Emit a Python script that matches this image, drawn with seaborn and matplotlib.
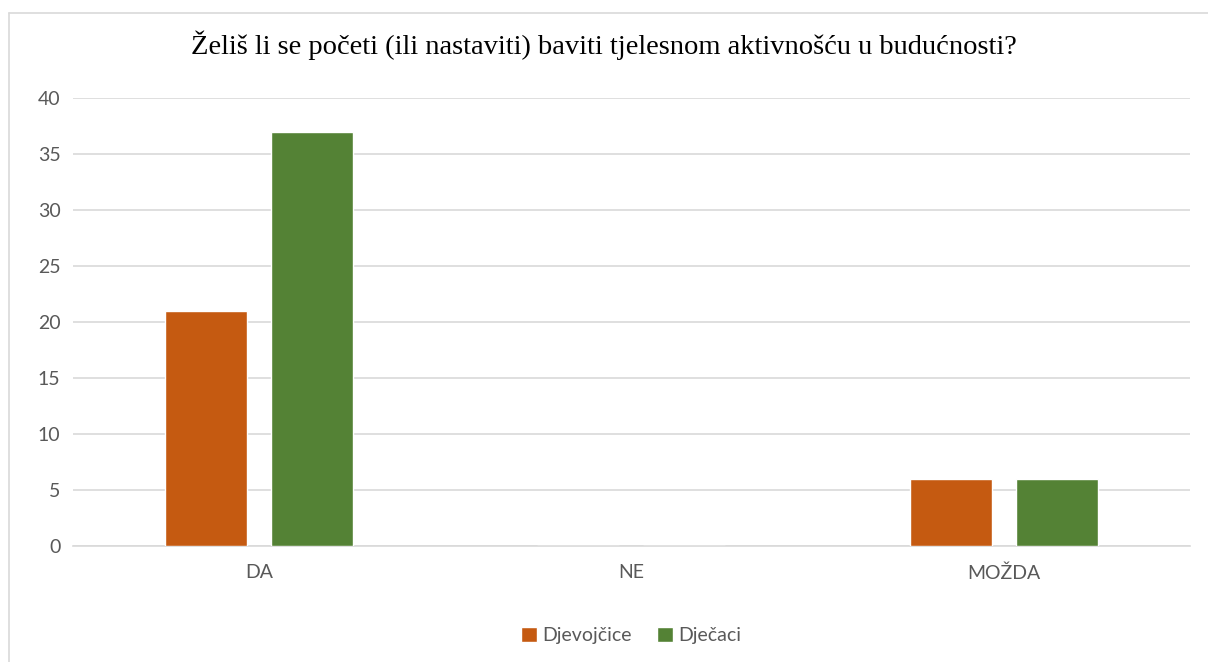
import matplotlib
matplotlib.use("Agg")
import matplotlib.pyplot as plt
import seaborn as sns
import pandas as pd
from matplotlib.lines import Line2D

categories = ["DA", "NE", "MOŽDA"]
series_names = ["Djevojčice", "Dječaci"]
djevojcice = [21, 0, 6]
djecaci = [37, 0, 6]
yticks = [0, 5, 10, 15, 20, 25, 30, 35, 40]
title = "Želiš li se početi (ili nastaviti) baviti tjelesnom aktivnošću u budućnosti?"

df = pd.DataFrame({
    "cat": categories * 2,
    "val": djevojcice + djecaci,
    "ser": [series_names[0]] * 3 + [series_names[1]] * 3,
})

sns.set_theme(style="white")
plt.rcParams['font.family'] = ['Lato', 'DejaVu Sans']

fig = plt.figure(figsize=(12.08, 6.62), dpi=100)
ax = fig.add_axes([0.0604, 0.1752, 0.9246, 0.6768])

sns.barplot(data=df, x="cat", y="val", hue="ser", order=categories,
            hue_order=series_names, palette=["#C55A11", "#548235"],
            saturation=1, width=0.57, gap=0.227, ax=ax, legend=True, zorder=3)

ax.set_xlim(-0.5, 2.5)
ax.set_ylim(0, 40)
ax.set_yticks(yticks)
ax.set_yticklabels([str(t) for t in yticks])
ax.yaxis.grid(True, color="#D9D9D9", linewidth=1.2, zorder=0)
ax.set_axisbelow(True)
for s in ["top", "right", "left"]:
    ax.spines[s].set_visible(False)
ax.spines["bottom"].set_color("#D9D9D9")
ax.spines["bottom"].set_linewidth(1.2)
ax.tick_params(axis="both", length=0, labelsize=14, colors="#595959")
ax.tick_params(axis="x", pad=13)
ax.tick_params(axis="y", pad=9)
ax.set_xlabel("")
ax.set_ylabel("")

leg = ax.legend(loc="center", bbox_to_anchor=(0.5, -0.2), ncol=2, frameon=False,
                fontsize=14, handlelength=0.8, handleheight=0.8, handletextpad=0.3,
                columnspacing=1.3)
for t in leg.get_texts():
    t.set_color("#595959")

fig.text(0.5, 0.932, title, ha="center", va="center", fontsize=20.5,
         family=["Liberation Serif", "DejaVu Serif"], color="#000000")

x0 = 8.5 / 1208
y0 = 1 - 12.5 / 662
fig.lines.append(Line2D([x0, 1.0], [y0, y0], transform=fig.transFigure,
                        color="#D9D9D9", linewidth=1.2))
fig.lines.append(Line2D([x0, x0], [y0, 0.0], transform=fig.transFigure,
                        color="#D9D9D9", linewidth=1.2))

fig.savefig("out.png", dpi=100)
